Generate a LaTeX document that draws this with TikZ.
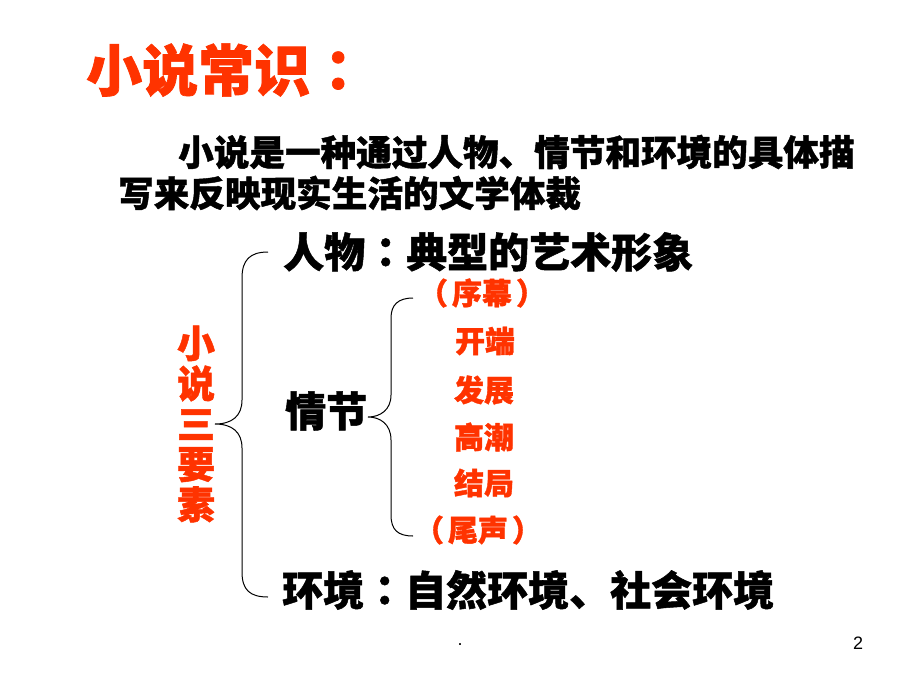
\documentclass[tikz,border=0pt]{standalone}
\usepackage{fontspec}
\setmainfont{Liberation Sans}
\newfontfamily\cjk[BoldFeatures={FakeBold=1.2}]{Noto Sans CJK SC}
\newfontfamily\cjktc[BoldFeatures={FakeBold=1.2}]{Noto Sans CJK TC}
\newcommand{\mcolon}{{\cjktc ：}}
\usetikzlibrary{calc, positioning}
\definecolor{titlered}{RGB}{255,51,0}

\begin{document}
\begin{tikzpicture}[x=1pt, y=-1pt,
                title/.style = {
                    anchor=west, inner sep=0pt,
                    text=titlered, font=\cjk\bfseries\fontsize{56}{56}\selectfont
                },
                body/.style = {
                    anchor=west, inner sep=0pt,
                    font=\cjk\bfseries\fontsize{35.6}{36}\selectfont
                },
                element/.style = {
                    anchor=west, inner sep=0pt,
                    font=\cjk\bfseries\fontsize{41}{41}\selectfont
                },
                stage/.style = {
                    inner sep=0pt, text=titlered,
                    font=\cjk\bfseries\fontsize{30}{30}\selectfont
                },
                vert/.style = {
                    inner sep=0pt, text=titlered, align=center,
                    font=\cjk\bfseries\fontsize{38}{40.3}\selectfont
                },
                brace/.style = {
                    draw, line width=1pt
                },
                footer/.style = {
                    inner sep=0pt, font=\fontsize{18}{18}\selectfont
                }
                ]
                \useasboundingbox (0,0) rectangle (920,690);

                \node[title] (title) at (86,70) {小说常识\mcolon};
                \node[body] (def1) at (178,152) {小说是一种通过人物、情节和环境的具体描};
                \node[body] (def2) at (118,193) {写来反映现实生活的文学体裁};

                \node[vert] (three) at (196,424) {小\\说\\三\\要\\素};
                \node[element] (person) at (283,252) {人物\mcolon 典型的艺术形象};
                \node[element] (plot) at (285,411) {情节};
                \node[element] (setting) at (282,590) {环境\mcolon 自然环境、社会环境};

                \node[stage] (prelude) at (482,293) {（\hspace{4pt}序幕\hspace{4pt}）};
                \node[stage] (opening) at (485,341) {开端};
                \node[stage] (develop) at (484,390) {发展};
                \node[stage] (climax) at (484,437) {高潮};
                \node[stage] (ending) at (484,483) {结局};
                \node[stage] (epilogue) at (478,530) {（\hspace{4pt}尾声\hspace{4pt}）};

                \node[footer] (dot) at (460,645) {.};
                \node[footer] (page) at (858,643) {2};

                % big brace
                \coordinate (bigtop) at (268,252);
                \coordinate (bigtip) at (215,424);
                \coordinate (bigbot) at (268,597);
                \path[brace] (bigtop) .. controls (250,252) and (242,260) .. (242,278)
                    -- (242,400) .. controls (242,416) and (232,424) .. (bigtip)
                    .. controls (232,424) and (242,432) .. (242,448)
                    -- (242,572) .. controls (242,590) and (250,597) .. (bigbot);

                % small brace
                \coordinate (smalltop) at (413,298);
                \coordinate (smalltip) at (368,417);
                \coordinate (smallbot) at (413,536);
                \path[brace] (smalltop) .. controls (398,298) and (391,305) .. (391,318)
                    -- (391,395) .. controls (391,410) and (380,417) .. (smalltip)
                    .. controls (380,417) and (391,424) .. (391,440)
                    -- (391,515) .. controls (391,530) and (398,536) .. (smallbot);
            \end{tikzpicture}
\end{document}
